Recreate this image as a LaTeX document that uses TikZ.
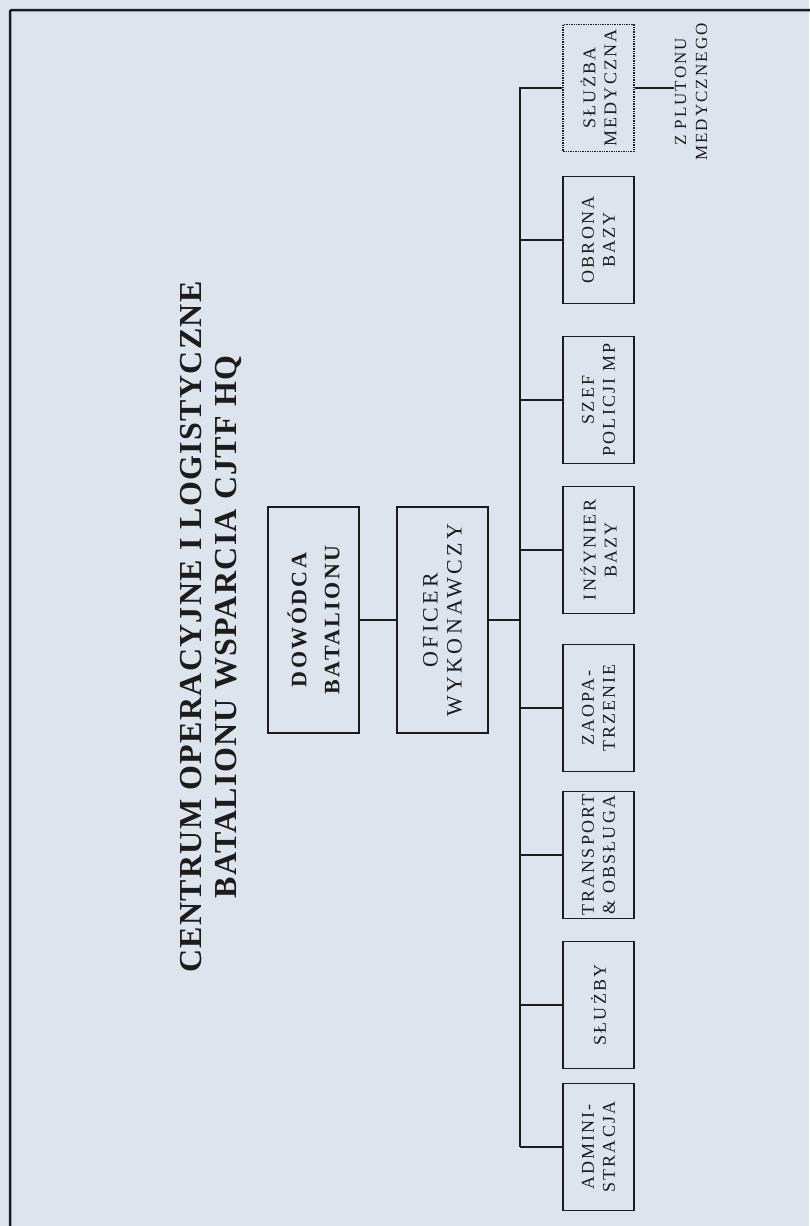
\documentclass[tikz,border=0pt]{standalone}
\usepackage{fontspec}
\setmainfont{Liberation Serif}
\newfontfamily\titlefont[LetterSpace=4]{Liberation Serif}
\newfontfamily\chieffont[LetterSpace=11]{Liberation Serif}
\newfontfamily\officerfont[LetterSpace=15]{Liberation Serif}
\newfontfamily\unitfont[LetterSpace=12]{Liberation Serif}
\definecolor{paper}{RGB}{222,228,238}
\definecolor{ink}{RGB}{28,28,30}

\begin{document}
\begin{tikzpicture}[x=1pt, y=-1pt,
  box/.style={draw=ink, line width=1.4pt, rotate=90, inner sep=0pt, align=center, text=ink},
  headbox/.style={box, minimum width=226pt, minimum height=91pt},
  unitbox/.style={box, minimum width=127pt, minimum height=71pt, font=\unitfont\fontsize{18}{21}\selectfont},
  link/.style={draw=ink, line width=1.4pt}]
\useasboundingbox (0,0) rectangle (809,1226);
\fill[paper] (0,0) rectangle (809,1226);
% page frame
\draw[ink, line width=2.5pt, rounded corners=2pt] (10,1240) -- (10,10) -- (820,10);

% title
\node[rotate=90, align=center, text=ink, font=\titlefont\bfseries\fontsize{32}{35}\selectfont] (title) at (211,627)
  {CENTRUM OPERACYJNE I LOGISTYCZNE\\BATALIONU WSPARCIA CJTF HQ};

% command
\node[headbox, font=\chieffont\bfseries\fontsize{22}{33}\selectfont] (dowodca) at (313.5,620) {DOWÓDCA\\BATALIONU};
\node[headbox, font=\officerfont\fontsize{22}{24}\selectfont] (oficer) at (442.5,620) {OFICER\\WYKONAWCZY};
\draw[link] (dowodca) -- (oficer);

\coordinate (bus) at (520,0);
\draw[link] (oficer.south) -- (bus |- oficer.south);

% medical service, attached from outside
\node[unitbox, densely dotted] (med) at (598.5,88) {SŁUŻBA\\MEDYCZNA};
\node[rotate=90, align=center, text=ink, inner sep=1pt, font=\unitfont\fontsize{17}{21}\selectfont] (pluton) at (691,92) {Z PLUTONU\\MEDYCZNEGO};
\draw[link] (med.south) -- (med.south -| pluton.north);

% sections
\foreach \name/\y/\txt in {obrona/240/{OBRONA\\BAZY}, szef/400/{SZEF\\POLICJI MP}, inz/550/{INŹYNIER\\BAZY},
    zaop/708/{ZAOPA-\\TRZENIE}, trans/855/{TRANSPORT\\\& OBSŁUGA}, sluzby/1005/{SŁUŻBY}, admin/1147/{ADMINI-\\STRACJA}}
  {
  \node[unitbox] (\name) at (598.5,\y) {\txt};
  \draw[link] (\name.north) -- (bus |- \name.north);
  }
\draw[link] (med.north) -- (bus |- med.north) -- (bus |- admin.north);

\end{tikzpicture}
\end{document}
